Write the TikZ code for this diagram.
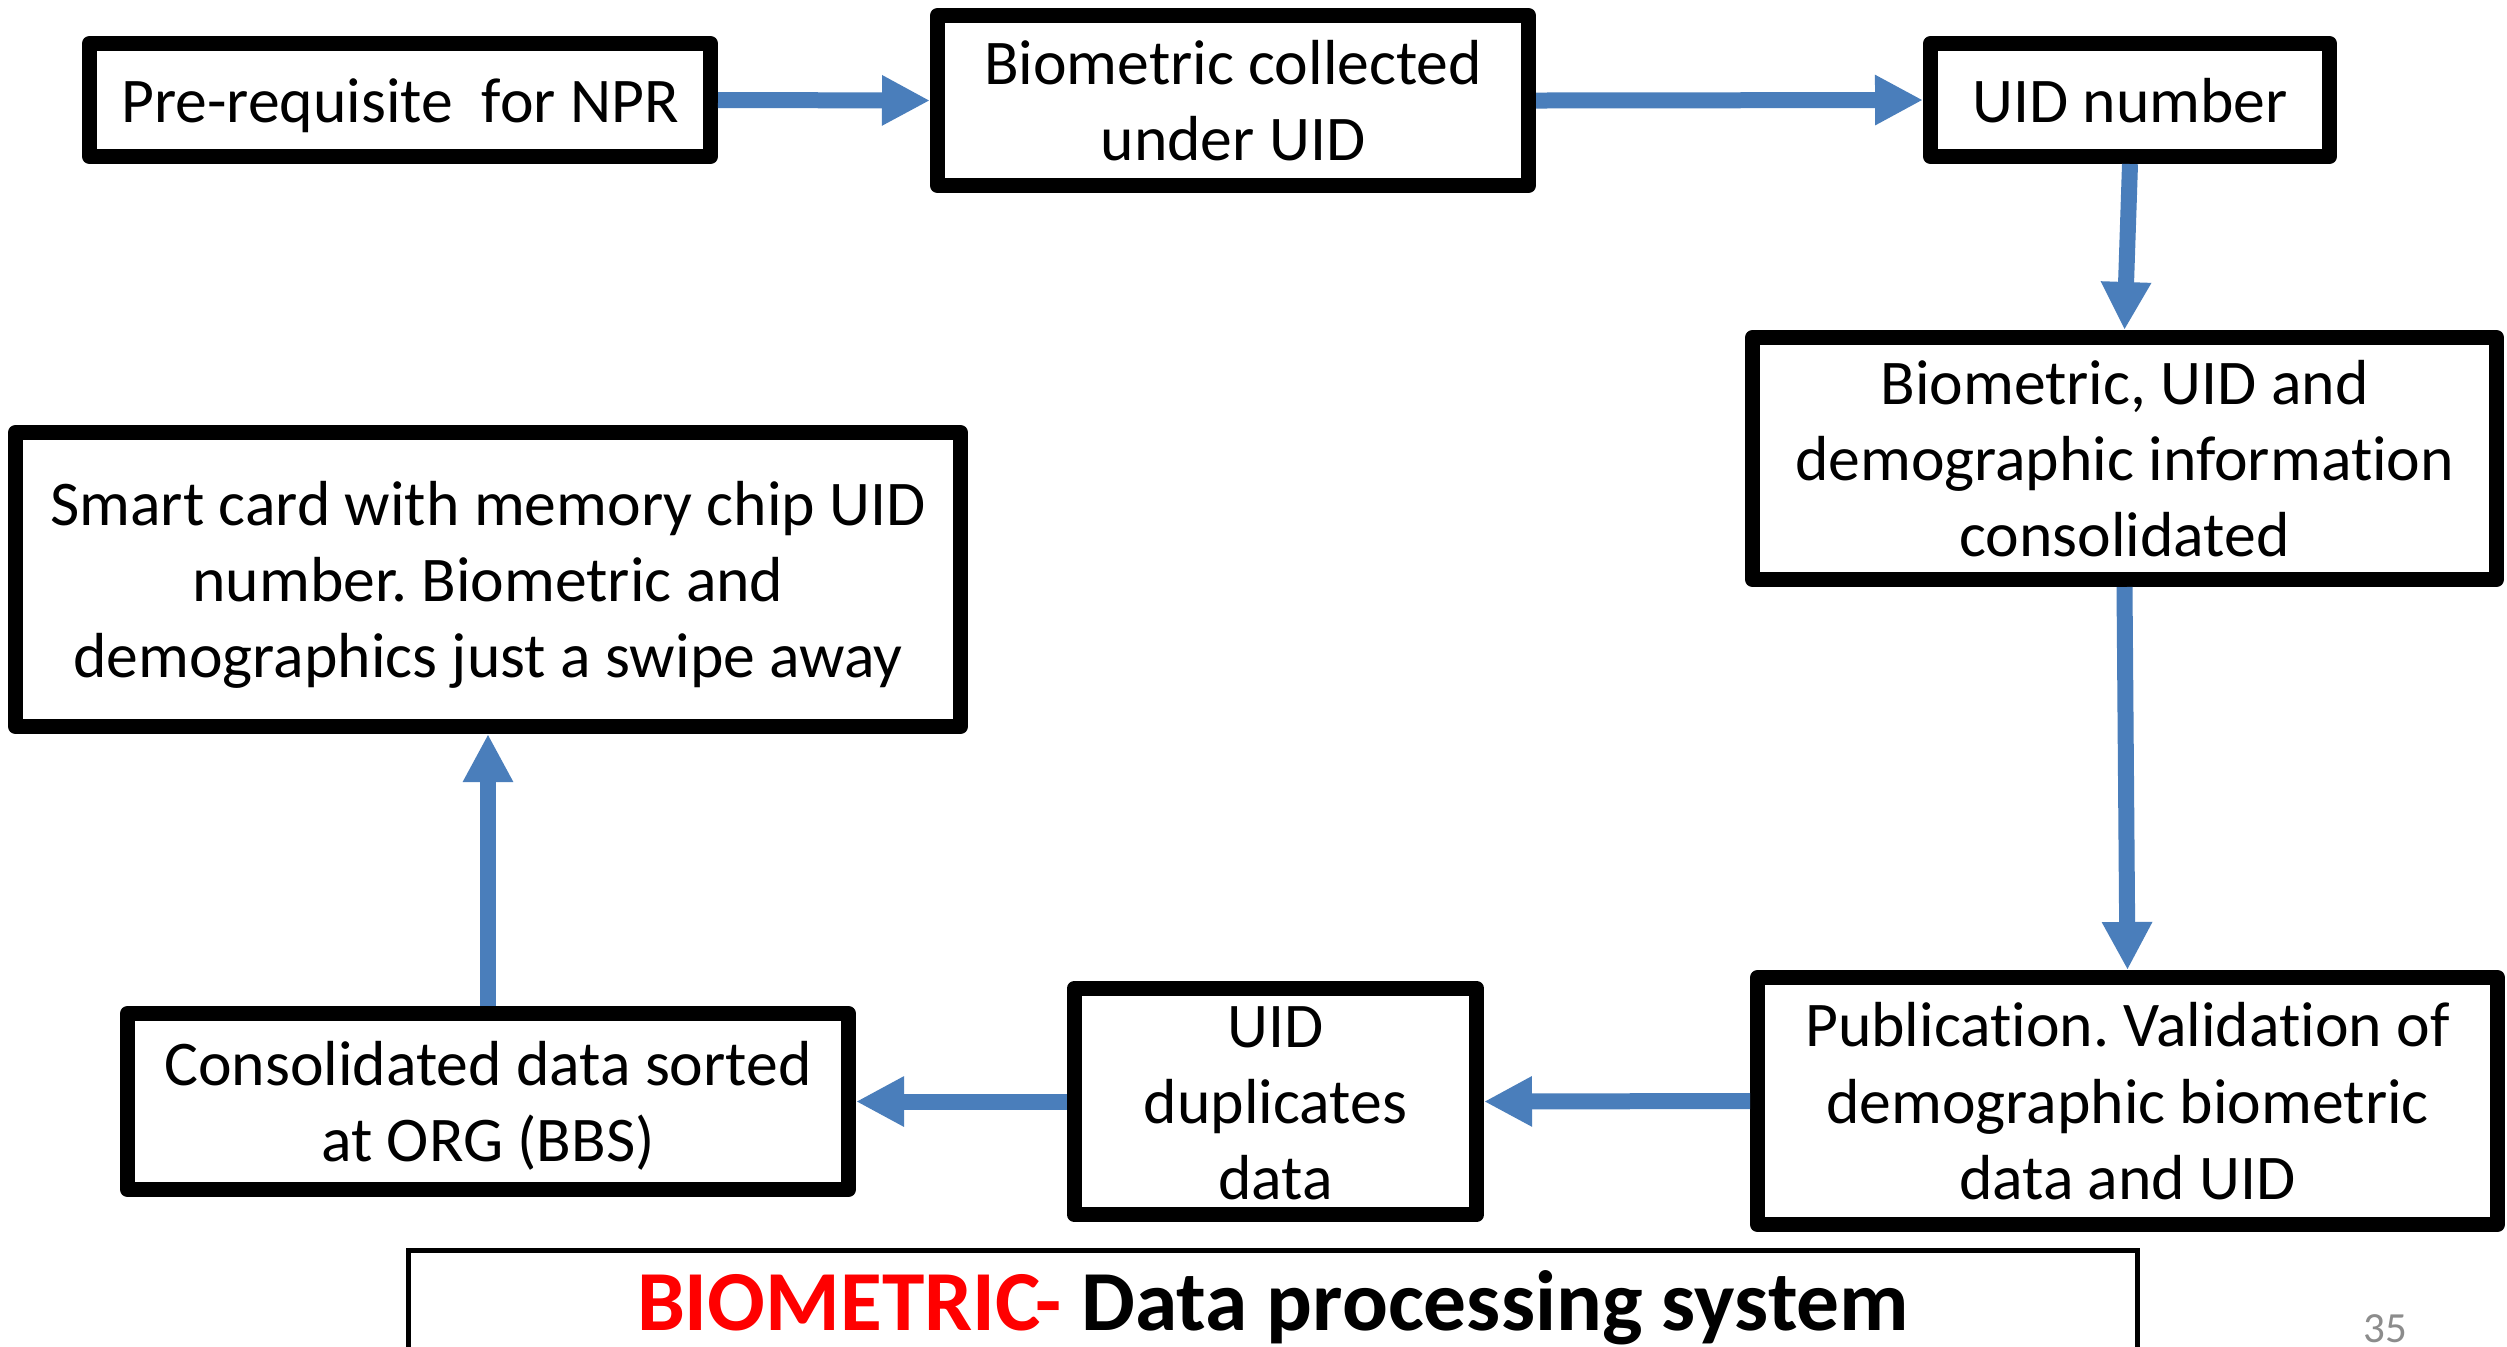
\documentclass[tikz,border=0pt]{standalone}
\usepackage{fontspec}
\setmainfont{Carlito}[Ligatures=NoCommon]
\usetikzlibrary{arrows.meta}
\definecolor{arrowblue}{HTML}{4A7EBB}
\definecolor{pagegray}{HTML}{8C8C8C}
\newcommand\pxu{0.3pt}
\newcommand\boxfont{\fontsize{19.1}{22.9}\selectfont\frenchspacing}
\newcommand\ls{\rule[-4.5pt]{0pt}{22.2pt}}
\tikzset{
  flowbox/.style={draw, line width=4.5pt, line join=round, align=center, inner sep=0pt, font=\boxfont},
  flow/.style={draw=arrowblue, line width=4.8pt, -{Triangle[width=14.1pt,length=14.4pt]}},
}
\begin{document}
\begin{tikzpicture}[x=0.3pt,y=-0.3pt]
\path[use as bounding box] (0,0) rectangle (2507,1346);
\clip (0,0) rectangle (2507,1346);
\fill[white] (0,0) rectangle (2507,1346);
\node[flowbox, minimum width=621*\pxu, minimum height=113*\pxu] (n1) at (400,100) {\ls Pre-requisite\ \ for NPR};
\node[flowbox, minimum width=591*\pxu, minimum height=170*\pxu] (n2) at (1233,100.5) {\ls Biometric collected\\\ls under UID};
\node[flowbox, minimum width=399*\pxu, minimum height=113*\pxu] (n3) at (2130,100) {\ls UID number};
\node[flowbox, minimum width=744*\pxu, minimum height=242*\pxu] (n4) at (2124.5,458.5) {\ls Biometric, UID and\\\ls demographic information\\\ls consolidated};
\node[flowbox, minimum width=740*\pxu, minimum height=247*\pxu] (n5) at (2127.5,1101) {\ls Publication. Validation of\\\ls demographic biometric\\\ls data and UID};
\node[flowbox, minimum width=402*\pxu, minimum height=218*\pxu] (n6) at (1275.5,1101.5) {\ls UID\\\ls duplicates\\\ls data};
\node[flowbox, minimum width=721*\pxu, minimum height=176*\pxu] (n7) at (488,1101.5) {\ls Consolidated data sorted\\\ls at ORG (BBS)};
\node[flowbox, minimum width=945*\pxu, minimum height=294*\pxu] (n8) at (488,579.5) {\ls Smart card with memory chip UID\\\ls number. Biometric and\\\ls demographics just a swipe away};
\draw[flow] (n1.east) -- (n2.west);
\draw[flow] (n2.east) -- (n3.west);
\draw[flow] (n3.south) -- (n4.north);
\draw[flow] (n4.south) -- (n5.north);
\draw[flow] (n5.west) -- (n6.east);
\draw[flow] (n6.west) -- (n7.east);
\draw[flow] (n7.north) -- (n8.south);
\node[draw, line width=1.5pt, minimum width=1729*\pxu, minimum height=150*\pxu, inner sep=0pt] (tbox) at (1273,1325.5) {};
\node[anchor=base, inner sep=0pt, font=\fontsize{25.65}{30}\selectfont\bfseries] (title) at (1273,1330) {\textcolor{red}{BIOMETRIC-} Data processing system};
\node[anchor=base, inner sep=0pt, text=pagegray, font=\fontsize{12.9}{15}\selectfont] (pnum) at (2385,1342) {35};
\end{tikzpicture}
\end{document}
